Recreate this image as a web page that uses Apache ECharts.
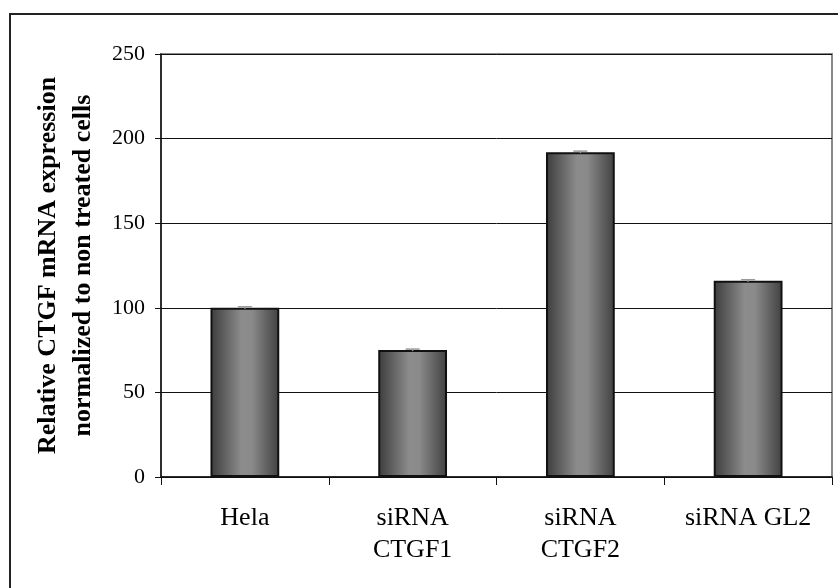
<!DOCTYPE html>
<html>
<head>
<meta charset="utf-8">
<script src="https://cdn.jsdelivr.net/npm/echarts@6/dist/echarts.min.js"></script>
<style>
  html, body { margin: 0; padding: 0; background: #fff; }
  #chart { width: 838px; height: 588px; }
</style>
</head>
<body>
<div id="chart"></div>
<script>
// values
const categories = ["Hela", "siRNA\nCTGF1", "siRNA\nCTGF2", "siRNA GL2"];
const expression = [100, 75, 192, 116];
const errors = [0.6, 0.6, 0.6, 0.6];

const serif = "Liberation Serif, Times New Roman, serif";

const chart = echarts.init(document.getElementById("chart"));

const barFill = new echarts.graphic.LinearGradient(0, 0, 1, 0, [
  { offset: 0, color: "#3c3c3c" },
  { offset: 0.45, color: "#8c8c8c" },
  { offset: 0.6, color: "#8a8a8a" },
  { offset: 1, color: "#404040" },
]);

const option = {
  animation: false,
  backgroundColor: "#fff",
  graphic: [
    {
      // outer chart frame (runs off the right and bottom edges)
      type: "rect",
      shape: { x: 10, y: 14, width: 840, height: 590 },
      style: { fill: "none", stroke: "#222", lineWidth: 2 },
      silent: true,
    },
  ],
  grid: {
    left: 161,
    right: 6,
    top: 54,
    bottom: 111,
    show: true,
    borderColor: "#888",
    borderWidth: 2,
  },
  xAxis: {
    type: "category",
    data: categories,
    axisLine: { lineStyle: { color: "#111", width: 1.5 } },
    axisTick: { show: true, length: 8, interval: 0, lineStyle: { color: "#111" } },
    axisLabel: {
      interval: 0,
      margin: 25,
      color: "#000",
      fontFamily: serif,
      fontSize: 26,
      lineHeight: 32,
    },
  },
  yAxis: {
    type: "value",
    min: 0,
    max: 250,
    interval: 50,
    name: "Relative CTGF mRNA expression\nnormalized to non treated cells",
    nameLocation: "middle",
    nameRotate: 90,
    nameGap: 50,
    nameTextStyle: {
      color: "#000",
      fontFamily: serif,
      fontWeight: "bold",
      fontSize: 26,
      lineHeight: 35,
    },
    axisLine: { show: true, lineStyle: { color: "#111", width: 1.5 } },
    axisTick: { show: true, length: 6, lineStyle: { color: "#111" } },
    axisLabel: {
      margin: 16,
      color: "#000",
      fontFamily: serif,
      fontSize: 22,
    },
    splitLine: { lineStyle: { color: "#111", width: 1 } },
  },
  series: [
    {
      type: "bar",
      data: expression,
      barWidth: "41%",
      itemStyle: { color: barFill, borderColor: "#111", borderWidth: 2 },
      z: 2,
    },
    {
      // tiny error bars with caps
      type: "custom",
      z: 3,
      data: expression.map((v, i) => [i, v - errors[i], v + errors[i]]),
      renderItem: (params, api) => {
        const lo = api.coord([api.value(0), api.value(1)]);
        const hi = api.coord([api.value(0), api.value(2)]);
        const half = 7;
        const style = { stroke: "#999", lineWidth: 1.5 };
        return {
          type: "group",
          children: [
            { type: "line", shape: { x1: hi[0], y1: hi[1], x2: lo[0], y2: lo[1] }, style },
            { type: "line", shape: { x1: hi[0] - half, y1: hi[1], x2: hi[0] + half, y2: hi[1] }, style },
          ],
        };
      },
    },
  ],
};

chart.setOption(option);
</script>
</body>
</html>
